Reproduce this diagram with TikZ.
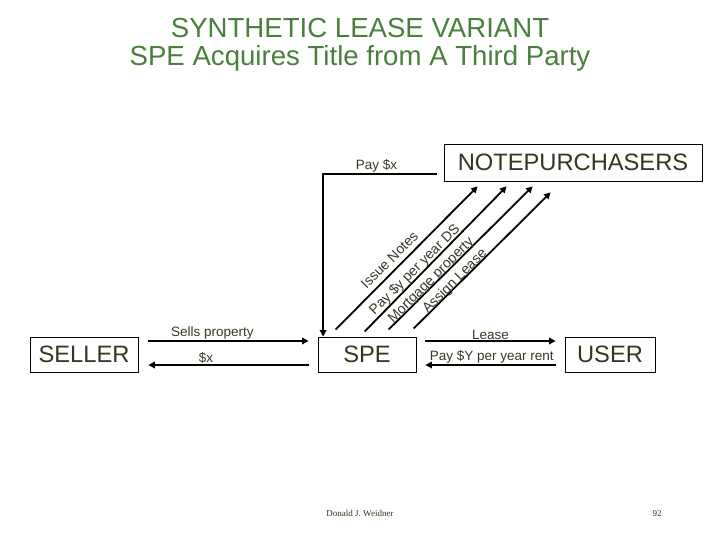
\documentclass[tikz,border=0pt]{standalone}
\usepackage{fontspec}
\setmainfont{Liberation Sans}
\newfontfamily\footserif{Liberation Serif}
\usetikzlibrary{arrows.meta,calc}
\definecolor{titlegreen}{RGB}{74,128,62}
\definecolor{boxtext}{RGB}{46,58,30}
\definecolor{lbltext}{RGB}{52,60,38}
\begin{document}
\begin{tikzpicture}[x=1pt,y=1pt,
  titletext/.style={font=\fontsize{27.6}{30}\selectfont, text=titlegreen, anchor=base, inner sep=0pt},
  box/.style={draw, line width=0.8pt, minimum height=35pt, inner sep=0pt, font=\fontsize{23.7}{26}\selectfont, text=boxtext},
  arr/.style={line width=1.8pt, -{Triangle[length=6.5pt,width=6.5pt]}},
  lbl/.style={font=\fontsize{13.5}{15}\selectfont, text=lbltext, inner sep=0.5pt},
  diag/.style={font=\fontsize{14}{16}\selectfont, text=lbltext, rotate=45, inner sep=0pt},
  foot/.style={font=\footserif\fontsize{9}{10}\selectfont, text=boxtext, anchor=base, inner sep=0pt}]
\useasboundingbox (0,0) rectangle (720,540);
\fill[white] (0,0) rectangle (720,540);

% titles
\node[titletext] (t1) at (360,502.7) {SYNTHETIC LEASE VARIANT};
\node[titletext] (t2) at (360,474.7) {SPE Acquires Title from A Third Party};

% boxes
\node[box, minimum width=108pt] (seller) at (84,185.5) {SELLER};
\node[box, minimum width=98pt] (spe) at (367,185.5) {SPE};
\node[box, minimum width=90pt] (user) at (610,185.5) {USER};
\node[box, minimum width=258pt, minimum height=37pt] (np) at (573,377.5) {NOTEPURCHASERS};

% horizontal arrows
\draw[arr] ($(seller.east)+(10,13.5)$) -- node[lbl, above, pos=0.40] {Sells property} ($(spe.west)+(-9,13.5)$);
\draw[arr] ($(spe.west)+(-9,-10.5)$) -- node[lbl, above, pos=0.64] {\$x} ($(seller.east)+(10,-10.5)$);
\draw[arr] ($(spe.east)+(9,13.5)$) -- node[lbl, above, pos=0.5] {Lease} ($(user.west)+(-9,13.5)$);
\draw[arr] ($(user.west)+(-9,-10.5)$) -- node[lbl, above, pos=0.49] {Pay \$Y per year rent} ($(spe.east)+(9,-10.5)$);

% Pay $x
\coordinate (px) at ($(np.west)+(-7,-11.5)$);
\coordinate (spein) at ($(spe.north west)+(5.5,0)$);
\draw[arr] (px) -- node[lbl, above, pos=0.53] {Pay \$x} (px -| spein) -- (spein);

% diagonal arrows
\coordinate (d1s) at ($(spe.north west)+(18,7)$);
\coordinate (d2s) at ($(spe.north west)+(47,5)$);
\coordinate (d3s) at ($(spe.north west)+(71,7)$);
\coordinate (d4s) at ($(spe.north west)+(96,8)$);
\coordinate (d1e) at ($(np.south west)+(34,-5)$);
\coordinate (d2e) at ($(np.south west)+(63,-5)$);
\coordinate (d3e) at ($(np.south west)+(89,-5)$);
\coordinate (d4e) at ($(np.south west)+(107,-11)$);
\draw[arr] (d1s) -- (d1e);
\draw[arr] (d2s) -- (d2e);
\draw[arr] (d3s) -- (d3e);
\draw[arr] (d4s) -- (d4e);
\node[diag] (l1) at (389.5,280) {Issue Notes};
\node[diag] (l2) at (415,270) {Pay \$y per year DS};
\node[diag] (l3) at (431.5,259.5) {Mortgage property};
\node[diag] (l4) at (455,258.5) {Assign Lease};

% footer
\node[foot] (author) at (360,23) {Donald J. Weidner};
\node[foot] (page) at (657,23) {92};
\end{tikzpicture}
\end{document}
